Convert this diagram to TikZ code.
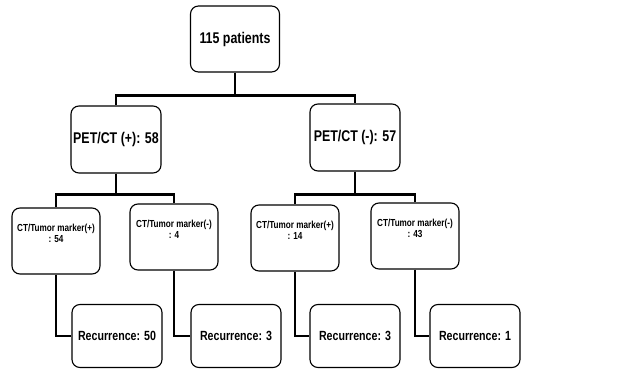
\documentclass[tikz,border=0pt]{standalone}
\usepackage{fontspec}
\setmainfont{Liberation Sans}[FakeStretch=0.8]
\begin{document}
\begin{tikzpicture}[x=1pt,y=-1pt,
	box/.style={draw,rounded corners=8pt,line width=1.1pt,align=center,font=\bfseries,inner sep=2pt},
	top/.style={box,minimum width=89pt,minimum height=66pt,font=\bfseries\fontsize{15.5}{18}\selectfont},
	pet/.style={box,minimum width=90pt,minimum height=67pt,font=\bfseries\fontsize{15.5}{18}\selectfont},
	ct/.style={box,minimum width=88pt,minimum height=66pt,font=\bfseries\fontsize{10.2}{11.5}\selectfont},
	rec/.style={box,minimum width=90pt,minimum height=63pt,font=\bfseries\fontsize{13.3}{16}\selectfont},
	conn/.style={line width=2.4pt}]
	\useasboundingbox (0,0) rectangle (629,374);

	\node[top] (root) at (235,39) {115 patients};
	\node[pet] (petp) at (116,139.5) {PET/CT (+): 58};
	\node[pet] (petn) at (355,137.5) {PET/CT (-): 57};

	\node[ct] (ct1) at (56,241) {CT/Tumor marker(+)\\: 54\\[4pt]\mbox{}};
	\node[ct] (ct2) at (174,237) {CT/Tumor marker(-)\\: 4\\[4pt]\mbox{}};
	\node[ct] (ct3) at (295,238) {CT/Tumor marker(+)\\: 14\\[4pt]\mbox{}};
	\node[ct] (ct4) at (415,236) {CT/Tumor marker(-)\\: 43\\[4pt]\mbox{}};

	\node[rec] (rec1) at (117,336) {Recurrence: 50};
	\node[rec] (rec2) at (236,336) {Recurrence: 3};
	\node[rec] (rec3) at (355,336) {Recurrence: 3};
	\node[rec] (rec4) at (475,336) {Recurrence: 1};

	\draw[conn] (root.south) -- ++(0,23) -| (petp.north);
	\draw[conn] (root.south) -- ++(0,23) -| (petn.north);
	\draw[conn] (petp.south) -- ++(0,21) -| (ct1.north);
	\draw[conn] (petp.south) -- ++(0,21) -| (ct2.north);
	\draw[conn] (petn.south) -- ++(0,23) -| (ct3.north);
	\draw[conn] (petn.south) -- ++(0,23) -| (ct4.north);

	\draw[conn] (ct1.south) |- (rec1.west);
	\draw[conn] (ct2.south) |- (rec2.west);
	\draw[conn] (ct3.south) |- (rec3.west);
	\draw[conn] (ct4.south) |- (rec4.west);
\end{tikzpicture}
\end{document}
